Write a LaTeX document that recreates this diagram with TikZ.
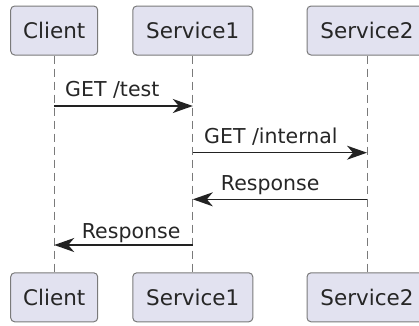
\documentclass[tikz,border=0pt]{standalone}
\usepackage{fontspec}
\setmainfont{DejaVu Sans}
\usetikzlibrary{arrows.meta}
\definecolor{partfill}{HTML}{E2E2F0}
\definecolor{partline}{HTML}{7A7A7A}
\definecolor{msgline}{HTML}{222222}
\begin{document}
\begin{tikzpicture}[x=1pt,y=-1pt,
  part/.style={draw=partline,fill=partfill,line width=1pt,rounded corners=4pt,
    minimum height=49pt,inner sep=0pt,font=\fontsize{21.5}{24}\selectfont,text=black!85},
  life/.style={draw=partline,line width=1pt,dash pattern=on 8pt off 5pt},
  msg/.style={draw=msgline,line width=1.4pt,-{Stealth[length=20pt,width=14pt,inset=6pt]}},
  lbl/.style={anchor=base west,inner sep=0pt,font=\fontsize{20.5}{24}\selectfont,text=black!85}]
\useasboundingbox (0,0) rectangle (419,325);
\clip (0,0) rectangle (419,325);
% participants top
\node[part,minimum width=87pt] (ct) at (54.2,30.5) {Client};
\node[part,minimum width=120pt] (s1t) at (192.8,30.5) {Service1};
\node[part,minimum width=120pt] (s2t) at (367,30.5) {Service2};
% participants bottom
\node[part,minimum width=87pt] (cb) at (54.2,297.3) {Client};
\node[part,minimum width=120pt] (s1b) at (192.8,297.3) {Service1};
\node[part,minimum width=120pt] (s2b) at (367,297.3) {Service2};
% lifelines
\draw[life] (ct.south) -- (cb.north);
\draw[life] (s1t.south) -- (s1b.north);
\draw[life] (s2t.south) -- (s2b.north);
% message endpoints
\coordinate (m1a) at (ct.south |- 0,106);
\coordinate (m1b) at (s1t.south |- 0,106);
\coordinate (m2a) at (s1t.south |- 0,152.7);
\coordinate (m2b) at (s2t.south |- 0,152.7);
\coordinate (m3a) at (s2t.south |- 0,199.3);
\coordinate (m3b) at (s1t.south |- 0,199.3);
\coordinate (m4a) at (s1t.south |- 0,245);
\coordinate (m4b) at (ct.south |- 0,245);
\draw[msg] (m1a) -- (m1b);
\draw[msg] (m2a) -- (m2b);
\draw[msg] (m3a) -- (m3b);
\draw[msg] (m4a) -- (m4b);
\node[lbl] (l1) at (65,96.7) {GET /test};
\node[lbl] (l2) at (204,143) {GET /internal};
\node[lbl] (l3) at (220.7,190.7) {Response};
\node[lbl] (l4) at (81.7,238) {Response};
\end{tikzpicture}
\end{document}
